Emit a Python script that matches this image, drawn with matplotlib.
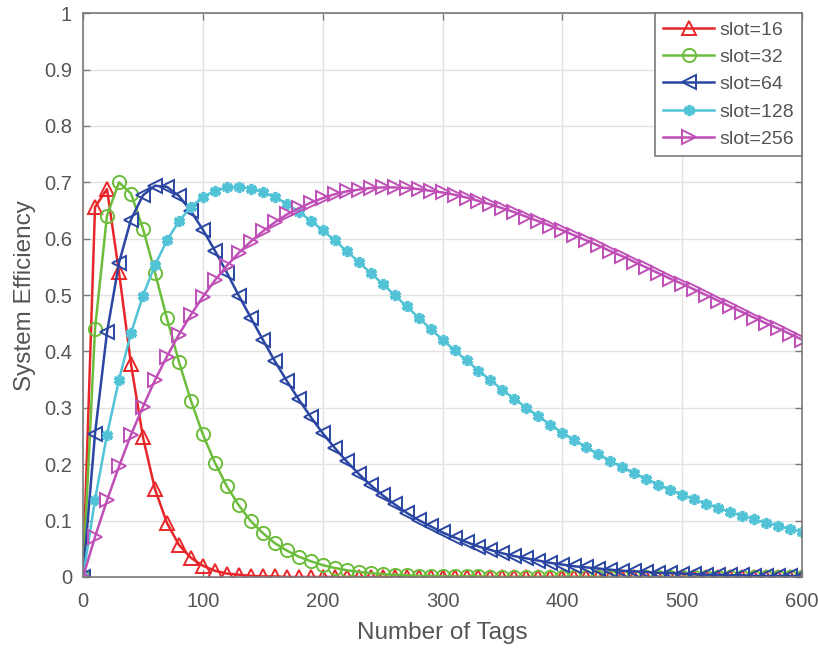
import matplotlib
matplotlib.use('Agg')
import matplotlib.pyplot as plt

plt.rcParams['font.family'] = ['Liberation Sans', 'DejaVu Sans']

# number of tags, one sample every 10 tags
tags = [0, 10, 20, 30, 40, 50, 60, 70, 80, 90,
        100, 110, 120, 130, 140, 150, 160, 170, 180, 190,
        200, 210, 220, 230, 240, 250, 260, 270, 280, 290,
        300, 310, 320, 330, 340, 350, 360, 370, 380, 390,
        400, 410, 420, 430, 440, 450, 460, 470, 480, 490,
        500, 510, 520, 530, 540, 550, 560, 570, 580, 590,
        600]

eff_16 = [0.0, 0.656, 0.688, 0.541, 0.378, 0.248, 0.156, 0.096, 0.057, 0.034,
          0.020, 0.011, 0.006, 0.004, 0.002, 0.001, 0.001, 0.0, 0.0, 0.0,
          0.0, 0.0, 0.0, 0.0, 0.0, 0.0, 0.0, 0.0, 0.0, 0.0,
          0.0, 0.0, 0.0, 0.0, 0.0, 0.0, 0.0, 0.0, 0.0, 0.0,
          0.0, 0.0, 0.0, 0.0, 0.0, 0.0, 0.0, 0.0, 0.0, 0.0,
          0.0, 0.0, 0.0, 0.0, 0.0, 0.0, 0.0, 0.0, 0.0, 0.0,
          0.0]

eff_32 = [0.0, 0.440, 0.641, 0.700, 0.680, 0.618, 0.540, 0.459, 0.382, 0.313,
          0.253, 0.203, 0.161, 0.127, 0.099, 0.078, 0.060, 0.047, 0.036, 0.028,
          0.021, 0.016, 0.012, 0.009, 0.007, 0.005, 0.004, 0.003, 0.002, 0.002,
          0.001, 0.001, 0.001, 0.001, 0.0, 0.0, 0.0, 0.0, 0.0, 0.0,
          0.0, 0.0, 0.0, 0.0, 0.0, 0.0, 0.0, 0.0, 0.0, 0.0,
          0.0, 0.0, 0.0, 0.0, 0.0, 0.0, 0.0, 0.0, 0.0, 0.0,
          0.0]

eff_64 = [0.0, 0.254, 0.434, 0.557, 0.634, 0.677, 0.694, 0.692, 0.676, 0.649,
          0.616, 0.579, 0.540, 0.499, 0.460, 0.421, 0.383, 0.348, 0.315, 0.284,
          0.255, 0.229, 0.205, 0.183, 0.163, 0.145, 0.129, 0.114, 0.101, 0.090,
          0.079, 0.070, 0.062, 0.054, 0.048, 0.042, 0.037, 0.033, 0.029, 0.025,
          0.022, 0.019, 0.017, 0.015, 0.013, 0.011, 0.010, 0.009, 0.007, 0.007,
          0.006, 0.005, 0.004, 0.004, 0.003, 0.003, 0.002, 0.002, 0.002, 0.002,
          0.001]

eff_128 = [0.0, 0.137, 0.252, 0.350, 0.432, 0.499, 0.553, 0.597, 0.631, 0.656,
           0.674, 0.685, 0.691, 0.692, 0.689, 0.683, 0.674, 0.662, 0.648, 0.632,
           0.615, 0.597, 0.578, 0.559, 0.539, 0.520, 0.500, 0.480, 0.460, 0.440,
           0.421, 0.402, 0.384, 0.366, 0.349, 0.332, 0.316, 0.300, 0.285, 0.270,
           0.256, 0.243, 0.230, 0.218, 0.206, 0.195, 0.184, 0.174, 0.164, 0.155,
           0.146, 0.138, 0.130, 0.123, 0.115, 0.109, 0.102, 0.096, 0.091, 0.085,
           0.080]

eff_256 = [0.0, 0.071, 0.136, 0.196, 0.252, 0.302, 0.349, 0.391, 0.430, 0.465,
           0.497, 0.526, 0.552, 0.575, 0.595, 0.613, 0.629, 0.643, 0.654, 0.664,
           0.672, 0.679, 0.684, 0.687, 0.690, 0.691, 0.691, 0.690, 0.688, 0.685,
           0.682, 0.678, 0.673, 0.667, 0.661, 0.654, 0.647, 0.639, 0.631, 0.623,
           0.615, 0.606, 0.597, 0.588, 0.578, 0.569, 0.559, 0.549, 0.539, 0.529,
           0.520, 0.510, 0.500, 0.490, 0.480, 0.470, 0.460, 0.450, 0.441, 0.431,
           0.421]

series = [
    ('slot=16', eff_16, '#e8262a', '^', 'none'),
    ('slot=32', eff_32, '#6cbd3c', 'o', 'none'),
    ('slot=64', eff_64, '#2a46a2', '<', 'none'),
    ('slot=128', eff_128, '#52c3d6', (6, 2, 0), None),
    ('slot=256', eff_256, '#bf4fb6', '>', 'none'),
]

fig = plt.figure(figsize=(8.18, 6.48), dpi=100)
ax = fig.add_axes([0.1015, 0.1096, 0.879, 0.870])

for label, vals, color, marker, face in series:
    kw = dict(color=color, marker=marker, markersize=9.5, linewidth=1.8,
              markeredgewidth=1.4, label=label)
    if face == 'none':
        kw['markerfacecolor'] = 'none'
    else:
        # asterisk markers, drawn thick so they read as small blobs
        kw['markeredgewidth'] = 2.6
        kw['markersize'] = 8
    ax.plot(tags, vals, **kw)

ax.set_xlim(0, 600)
ax.set_ylim(0, 1)
ax.set_xticks([0, 100, 200, 300, 400, 500, 600])
ax.set_yticks([0, 0.1, 0.2, 0.3, 0.4, 0.5, 0.6, 0.7, 0.8, 0.9, 1])
ax.set_yticklabels(['0', '0.1', '0.2', '0.3', '0.4', '0.5', '0.6', '0.7', '0.8', '0.9', '1'])
ax.grid(True, color='#e2e2e2', linewidth=1.0)
ax.set_axisbelow(True)

for sp in ax.spines.values():
    sp.set_color('#7a7a7a')
    sp.set_linewidth(1.2)
ax.tick_params(direction='in', length=5, width=1.0, colors='#7a7a7a',
               labelcolor='#555555', labelsize=14.5, top=True, right=True)
ax.tick_params(axis='x', pad=11)
ax.tick_params(axis='y', pad=8)

ax.set_xlabel('Number of Tags', fontsize=17.5, color='#555555', labelpad=8)
ax.set_ylabel('System Efficiency', fontsize=17.5, color='#555555', labelpad=6)

leg = ax.legend(loc='upper right', borderaxespad=0, fontsize=14, fancybox=False,
                handlelength=2.6, handletextpad=0.3, labelspacing=0.5,
                borderpad=0.4, framealpha=1)
leg.get_frame().set_edgecolor('#7a7a7a')
leg.get_frame().set_linewidth(1.2)
for t in leg.get_texts():
    t.set_color('#555555')

fig.savefig('out.png', dpi=100)
